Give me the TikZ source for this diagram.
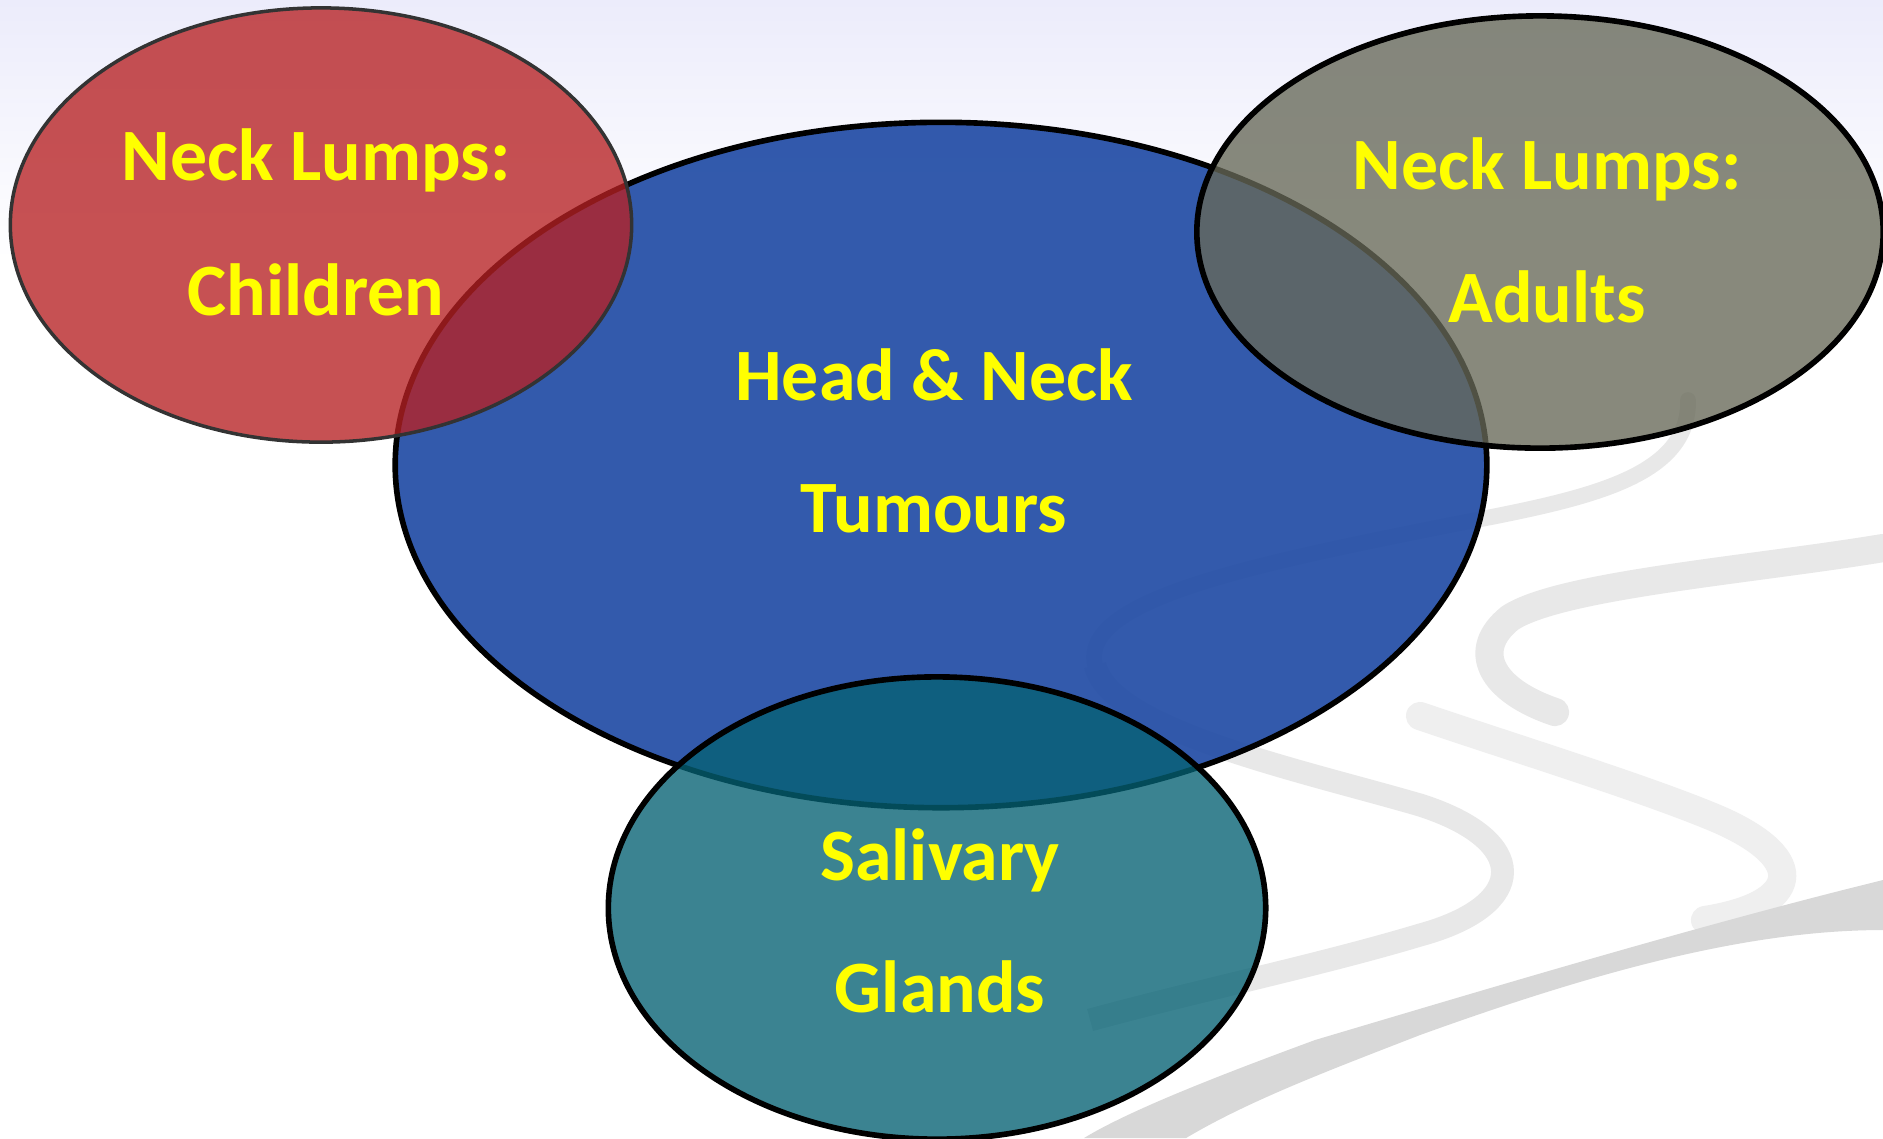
\documentclass[tikz,border=0pt]{standalone}
\usepackage{fontspec}
\setmainfont{Carlito}
\usepackage{tikz}
\usetikzlibrary{shapes.geometric, positioning}
\definecolor{bgtop}{HTML}{ECECFB}
\definecolor{swoosh}{HTML}{E8E8E8}
\definecolor{swooshdark}{HTML}{D8D8D8}
\definecolor{tumour}{HTML}{244EA6}
\definecolor{child}{HTML}{B72123}
\definecolor{adult}{HTML}{676958}
\definecolor{gland}{HTML}{056173}
\definecolor{labelyellow}{HTML}{FFFF00}
\tikzset{
  blob/.style={ellipse, inner sep=0pt, outer sep=0pt, fill opacity=0.78},
  lbl/.style={anchor=base, text=labelyellow, font=\fontsize{21}{25}\selectfont\bfseries}
}

\begin{document}
\begin{tikzpicture}[x=0.01cm, y=-0.01cm]
  \useasboundingbox (0,0) rectangle (1883,1138);
  % Background
  \fill[white] (0,0) rectangle (1883,1138);
  \shade[top color=bgtop, bottom color=white] (0,0) rectangle (1883,260);
  % Swooshes
  \draw[swoosh, line width=4.5pt, line cap=round]
    (1688,400) .. controls (1690,480) and (1580,500) .. (1450,525)
    .. controls (1250,565) and (1080,600) .. (1095,665);
  \draw[swoosh, line width=6.5pt]
    (1095,665) .. controls (1110,730) and (1300,770) .. (1420,805)
    .. controls (1530,840) and (1530,905) .. (1420,935)
    .. controls (1320,965) and (1200,990) .. (1090,1020);
  \draw[swoosh, line width=8pt, line cap=round]
    (1883,548) .. controls (1750,570) and (1560,585) .. (1510,618)
    .. controls (1470,650) and (1490,690) .. (1555,712);
  \draw[swoosh!70, line width=8pt, line cap=round]
    (1420,716) .. controls (1520,750) and (1650,790) .. (1720,820)
    .. controls (1810,860) and (1800,905) .. (1705,920);
  \fill[swooshdark]
    (1883,880) .. controls (1700,925) and (1500,985) .. (1315,1040)
    .. controls (1220,1075) and (1130,1110) .. (1084,1138)
    -- (1186,1138) .. controls (1250,1100) and (1330,1070) .. (1420,1035)
    .. controls (1600,970) and (1750,930) .. (1883,930) -- cycle;
  % Circles
  \node[blob, draw=black, line width=1.6pt, fill=tumour, fill opacity=0.93,
        minimum width=10.91cm, minimum height=6.85cm] (tumours) at (941,465) {};
  \node[blob, draw=black!80, line width=1pt, fill=child,
        minimum width=6.21cm, minimum height=4.34cm] (children) at (321,225) {};
  \node[blob, draw=black, line width=1.6pt, fill=adult,
        minimum width=6.86cm, minimum height=4.32cm] (adults) at (1540,232) {};
  \node[blob, draw=black, line width=1.6pt, fill=gland,
        minimum width=6.57cm, minimum height=4.62cm] (glands) at (937,908) {};
  % Labels
  \node[lbl] (childtop) at (316,180) {Neck Lumps:};
  \node[lbl] (childbot) at (316,315) {Children};
  \node[lbl] (tumtop) at (934,400) {Head \& Neck};
  \node[lbl] (tumbot) at (934,532) {Tumours};
  \node[lbl] (adulttop) at (1547,189) {Neck Lumps:};
  \node[lbl] (adultbot) at (1547,322) {Adults};
  \node[lbl] (glandtop) at (940,880) {Salivary};
  \node[lbl] (glandbot) at (940,1012) {Glands};
\end{tikzpicture}
\end{document}
